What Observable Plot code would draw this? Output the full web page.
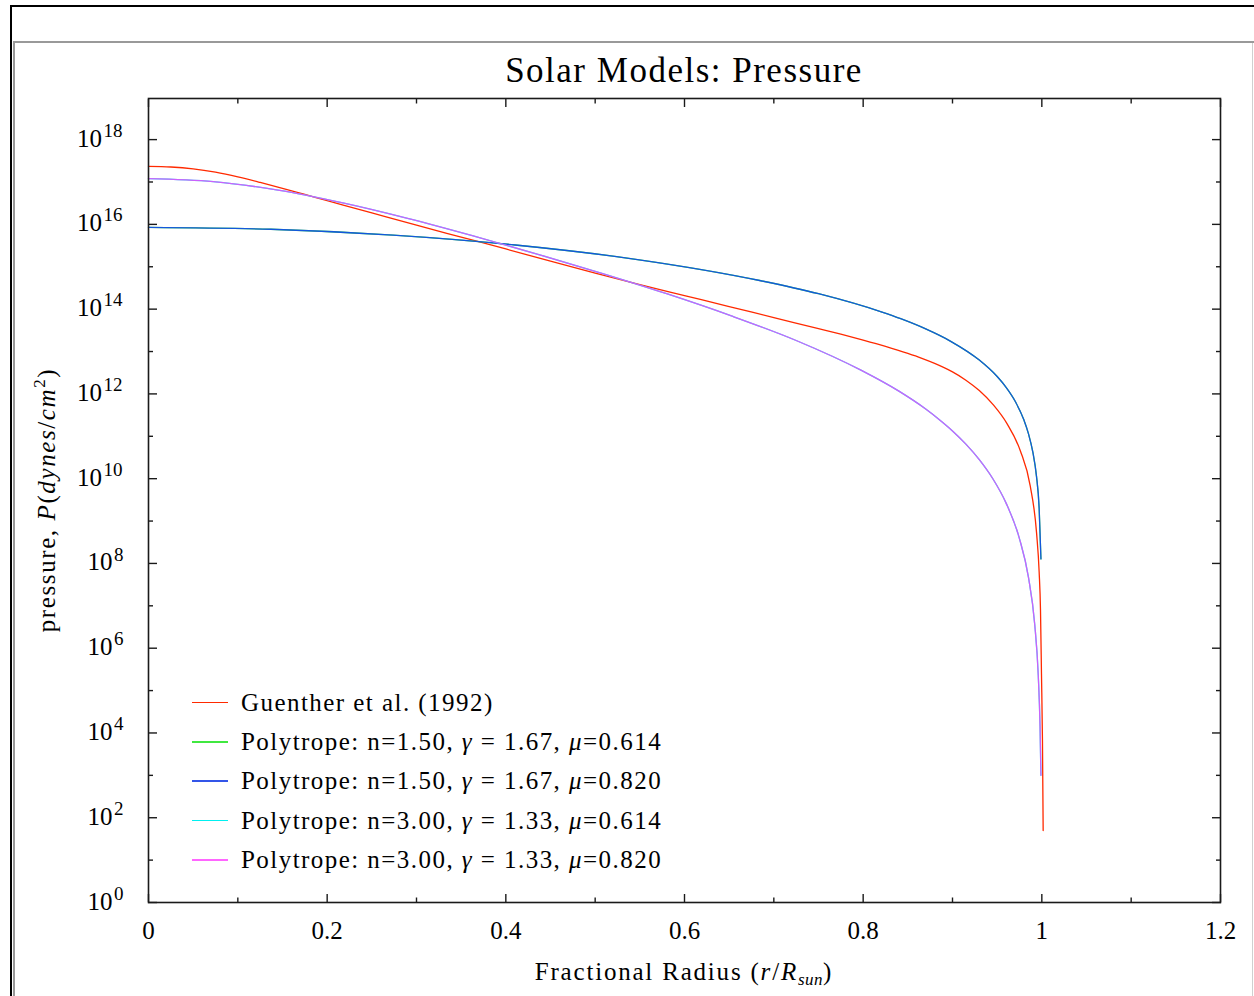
<!DOCTYPE html>
<html>
<head>
<meta charset="utf-8">
<script src="https://cdn.jsdelivr.net/npm/d3@7"></script>
<script src="https://cdn.jsdelivr.net/npm/@observablehq/plot@0.6"></script>
<style>
  html, body { margin: 0; padding: 0; background: #fff; width: 1254px; height: 996px; overflow: hidden; }
  #wrap { position: relative; width: 1254px; height: 996px; font-family: "Liberation Serif", "Times New Roman", serif; color: #000; }
  #chart { position: absolute; left: 0; top: 0; }
  .deco { position: absolute; }
  #title { position: absolute; left: 384px; width: 600px; top: 51px; line-height: 40px; font-size: 35px; letter-spacing: 1.5px; text-align: center; white-space: nowrap; }
  #xlabel { position: absolute; left: 434px; width: 500px; top: 957px; line-height: 30px; font-size: 25px; letter-spacing: 1.8px; text-align: center; white-space: nowrap; }
  #ylabel { position: absolute; left: 47px; top: 500px; font-size: 25px; letter-spacing: 1.6px; line-height: 30px; white-space: nowrap; transform: translate(-50%, -50%) rotate(-90deg); }
  sub { font-size: 17px; vertical-align: -5px; line-height: 0; letter-spacing: 0.5px; }
  sup { font-size: 17px; vertical-align: 10px; line-height: 0; }
  #legend { position: absolute; left: 192px; top: 683px; font-size: 25px; letter-spacing: 1.45px; }
  .row { display: flex; align-items: center; height: 39.3px; white-space: nowrap; }
  .sw { display: inline-block; width: 36px; height: 1.5px; margin-right: 13px; }
</style>
</head>
<body>
<div id="wrap">
  <div class="deco" style="left:10px;top:5px;width:1244px;height:2px;background:#000"></div>
  <div class="deco" style="left:10px;top:5px;width:2px;height:991px;background:#000"></div>
  <div class="deco" style="left:13px;top:41px;width:1241px;height:2px;background:#999"></div>
  <div class="deco" style="left:13px;top:41px;width:2px;height:955px;background:#999"></div>
  <div class="deco" style="left:1252px;top:43px;width:1px;height:953px;background:#d0d0d0"></div>
  <div id="chart"></div>
  <div id="title">Solar Models: Pressure</div>
  <div id="xlabel">Fractional Radius (<i>r</i>/<i>R</i><sub><i>sun</i></sub>)</div>
  <div id="ylabel">pressure, <i>P</i>(<i>dynes</i>/<i>cm</i><sup>2</sup>)</div>
  <div id="legend"></div>
</div>
<script>
// ---- tick values and labels ----
const xMajorTicks = [0, 0.2, 0.4, 0.6, 0.8, 1.0, 1.2];
const xMinorTicks = [0.1, 0.3, 0.5, 0.7, 0.9, 1.1];
const xTickLabels = ["0", "0.2", "0.4", "0.6", "0.8", "1", "1.2"];
const yMajorTicks = [1e0, 1e2, 1e4, 1e6, 1e8, 1e10, 1e12, 1e14, 1e16, 1e18];
const yMinorTicks = [1e1, 1e3, 1e5, 1e7, 1e9, 1e11, 1e13, 1e15, 1e17];
const yTickExponents = ["0", "2", "4", "6", "8", "10", "12", "14", "16", "18"];

// ---- series ----
const seriesNames = [
  "Guenther et al. (1992)",
  "Polytrope: n=1.50, <i>γ</i> = 1.67, <i>μ</i>=0.614",
  "Polytrope: n=1.50, <i>γ</i> = 1.67, <i>μ</i>=0.820",
  "Polytrope: n=3.00, <i>γ</i> = 1.33, <i>μ</i>=0.614",
  "Polytrope: n=3.00, <i>γ</i> = 1.33, <i>μ</i>=0.820"
];

// Guenther et al. (1992) solar model
const radiusGuenther = [0, 0.025, 0.05, 0.075, 0.10, 0.125, 0.15, 0.175, 0.20, 0.25, 0.30, 0.35, 0.40, 0.45, 0.50, 0.55, 0.60, 0.65, 0.70, 0.75, 0.775, 0.80, 0.825, 0.85, 0.865, 0.88, 0.89, 0.90, 0.915, 0.93, 0.946, 0.961, 0.976, 0.987, 0.9941, 0.997, 0.9985, 0.9996, 1.0007, 1.0015];
const pressureGuenther = [2.34e17, 2.26e17, 2.04e17, 1.70e17, 1.32e17, 9.77e16, 7.08e16, 5.07e16, 3.63e16, 1.86e16, 9.55e15, 5.01e15, 2.63e15, 1.35e15, 7.08e14, 3.80e14, 2.09e14, 1.15e14, 6.31e13, 3.47e13, 2.57e13, 1.86e13, 1.32e13, 9.02e12, 7.0e12, 5.25e12, 4.22e12, 3.31e12, 2.11e12, 1.20e12, 5.42e11, 1.99e11, 4.51e10, 6.76e9, 5.25e8, 6.31e7, 7.94e6, 2.51e5, 6.61e3, 50];

// n = 1.5 polytrope (pressure identical for both mu)
const radiusN15 = [0, 0.1368, 0.2737, 0.4105, 0.5474, 0.6842, 0.75, 0.8211, 0.842, 0.87, 0.898, 0.93, 0.95, 0.96, 0.97, 0.98, 0.985, 0.99, 0.994, 0.997, 0.999];
const pressureN15_mu0614 = [8.51e15, 7.67e15, 5.58e15, 3.26e15, 1.48e15, 4.74e14, 2.31e14, 8.51e13, 5.94e13, 3.41e13, 1.74e13, 6.27e12, 2.57e12, 1.43e12, 6.81e11, 2.41e11, 1.16e11, 4.15e10, 1.15e10, 2.01e9, 1.28e8];
const pressureN15_mu0820 = [8.51e15, 7.67e15, 5.58e15, 3.26e15, 1.48e15, 4.74e14, 2.31e14, 8.51e13, 5.94e13, 3.41e13, 1.74e13, 6.27e12, 2.57e12, 1.43e12, 6.81e11, 2.41e11, 1.16e11, 4.15e10, 1.15e10, 2.01e9, 1.28e8];

// n = 3 polytrope (pressure identical for both mu)
const radiusN3 = [0, 0.0725, 0.145, 0.2175, 0.29, 0.3625, 0.435, 0.5075, 0.58, 0.6525, 0.725, 0.7975, 0.84, 0.87, 0.885, 0.90, 0.915, 0.93, 0.945, 0.96, 0.975, 0.985, 0.992, 0.996, 0.998, 0.999];
const pressureN3_mu0614 = [1.20e17, 1.02e17, 6.43e16, 3.22e16, 1.39e16, 5.43e15, 2.0e15, 7.0e14, 2.31e14, 6.92e13, 1.82e13, 3.63e12, 1.16e12, 4.40e11, 2.50e11, 1.34e11, 6.55e10, 2.82e10, 1.01e10, 2.65e9, 3.81e8, 4.74e7, 3.73e6, 2.29e5, 1.41e4, 1.0e3];
const pressureN3_mu0820 = [1.20e17, 1.02e17, 6.43e16, 3.22e16, 1.39e16, 5.43e15, 2.0e15, 7.0e14, 2.31e14, 6.92e13, 1.82e13, 3.63e12, 1.16e12, 4.40e11, 2.50e11, 1.34e11, 6.55e10, 2.82e10, 1.01e10, 2.65e9, 3.81e8, 4.74e7, 3.73e6, 2.29e5, 1.41e4, 1.0e3];

const seriesColors = ["#ff2a00", "#30e030", "#1248f0", "#00f0f0", "#ff3cff"];
const legendColors = ["#ff2a00", "#40e840", "#3355e8", "#00f0f0", "#ff66ff"];
const seriesOpacity = [1, 1, 0.9, 1, 0.8];

const toRows = (rs, ps) => rs.map((r, i) => ({r, p: ps[i]}));
const seriesData = [
  toRows(radiusGuenther, pressureGuenther),
  toRows(radiusN15, pressureN15_mu0614),
  toRows(radiusN15, pressureN15_mu0820),
  toRows(radiusN3, pressureN3_mu0614),
  toRows(radiusN3, pressureN3_mu0820)
];

const yLabels = yMajorTicks.map((v, i) => ({v, e: yTickExponents[i]}));
const yLab1 = yLabels.filter(d => d.e.length === 1);
const yLab2 = yLabels.filter(d => d.e.length === 2);

const axisColor = "#1a1a1a";

const marks = [
  ...seriesData.map((rows, i) => Plot.line(rows, {
    x: "r", y: "p", stroke: seriesColors[i], strokeOpacity: seriesOpacity[i], strokeWidth: 1.3, curve: "monotone-x"
  })),
  Plot.frame({stroke: axisColor, strokeWidth: 1.6}),
  // inward ticks on all four sides
  Plot.axisX(xMajorTicks, {anchor: "bottom", tickSize: -8, tickFormat: () => "", label: null, stroke: axisColor, strokeWidth: 1.4}),
  Plot.axisX(xMinorTicks, {anchor: "bottom", tickSize: -4.5, tickFormat: () => "", label: null, stroke: axisColor, strokeWidth: 1.4}),
  Plot.axisX(xMajorTicks, {anchor: "top", tickSize: -8, tickFormat: () => "", label: null, stroke: axisColor, strokeWidth: 1.4}),
  Plot.axisX(xMinorTicks, {anchor: "top", tickSize: -4.5, tickFormat: () => "", label: null, stroke: axisColor, strokeWidth: 1.4}),
  Plot.axisY(yMajorTicks, {anchor: "left", tickSize: -9, tickFormat: () => "", label: null, stroke: axisColor, strokeWidth: 1.4}),
  Plot.axisY(yMinorTicks, {anchor: "left", tickSize: -5, tickFormat: () => "", label: null, stroke: axisColor, strokeWidth: 1.4}),
  Plot.axisY(yMajorTicks, {anchor: "right", tickSize: -9, tickFormat: () => "", label: null, stroke: axisColor, strokeWidth: 1.4}),
  Plot.axisY(yMinorTicks, {anchor: "right", tickSize: -5, tickFormat: () => "", label: null, stroke: axisColor, strokeWidth: 1.4}),
  // x tick labels
  Plot.axisX(xMajorTicks, {anchor: "bottom", tickSize: 0, tickPadding: 19, tickFormat: (d, i) => xTickLabels[i], label: null, fontSize: 25, fill: "#000"}),
  // y tick labels 10^n
  Plot.text(yLab1, {frameAnchor: "left", y: "v", text: () => "10", textAnchor: "end", dx: -36, dy: -1, fontSize: 25, fill: "#000"}),
  Plot.text(yLab1, {frameAnchor: "left", y: "v", text: "e", textAnchor: "start", dx: -34.5, dy: -9, fontSize: 19, fill: "#000"}),
  Plot.text(yLab2, {frameAnchor: "left", y: "v", text: () => "10", textAnchor: "end", dx: -46.5, dy: -1, fontSize: 25, fill: "#000"}),
  Plot.text(yLab2, {frameAnchor: "left", y: "v", text: "e", textAnchor: "start", dx: -45, dy: -9, fontSize: 19, fill: "#000"})
];

const chart = Plot.plot({
  width: 1254,
  height: 996,
  marginLeft: 148,
  marginRight: 34,
  marginTop: 98,
  marginBottom: 94,
  x: {domain: [0, 1.2]},
  y: {type: "log", domain: [1, Math.pow(10, 18.97)]},
  style: {fontFamily: "'Liberation Serif', 'Times New Roman', serif", fontSize: "25px", color: "#000", background: "transparent"},
  marks
});
document.getElementById("chart").appendChild(chart);

// legend (HTML overlay inside plot area)
const legend = document.getElementById("legend");
seriesNames.forEach((name, i) => {
  const row = document.createElement("div");
  row.className = "row";
  row.innerHTML = `<span class="sw" style="background:${legendColors[i]}"></span><span>${name}</span>`;
  legend.appendChild(row);
});
</script>
</body>
</html>
